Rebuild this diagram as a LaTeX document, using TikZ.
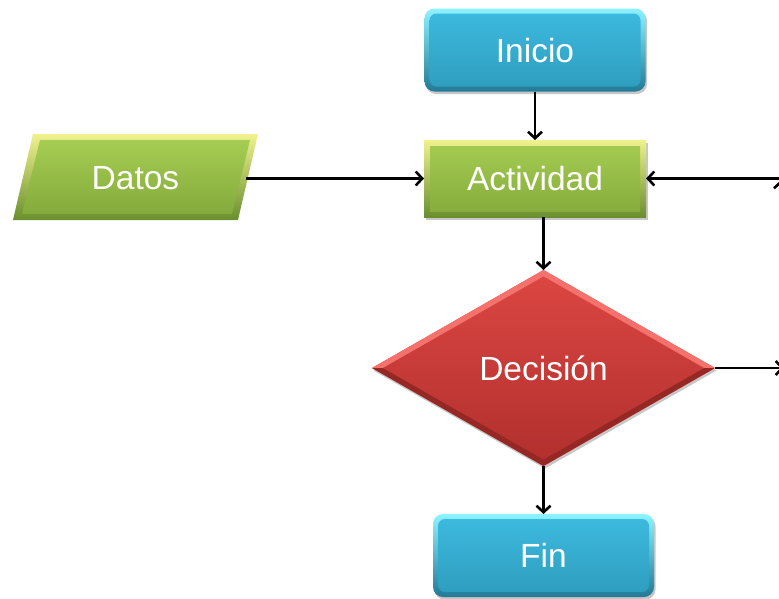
\documentclass[tikz,border=0pt]{standalone}
\usepackage{fontspec}
\setmainfont{Liberation Sans}
\usetikzlibrary{arrows.meta,shapes.geometric,calc,shadows}

% palette
\definecolor{bluemain}{HTML}{3DBBE0}
\definecolor{bluelow}{HTML}{2E9CBD}
\definecolor{bluelight}{HTML}{8DF3FF}
\definecolor{bluedark}{HTML}{217A96}
\definecolor{greenmain}{HTML}{A6CD52}
\definecolor{greenlow}{HTML}{84AA3C}
\definecolor{greenlight}{HTML}{F0F28E}
\definecolor{greendark}{HTML}{6A8F2E}
\definecolor{redmain}{HTML}{DB4642}
\definecolor{redlow}{HTML}{B2302E}
\definecolor{redlight}{HTML}{F4716C}
\definecolor{reddark}{HTML}{952725}

\newcommand\boxfont{\fontsize{33.5}{40}\selectfont}

\begin{document}
\begin{tikzpicture}[x=1pt,y=-1pt,
  every node/.style={inner sep=0pt, outer sep=0pt, text=white, font=\boxfont,
    text height=24pt, text depth=0pt},
  softshadow/.style={drop shadow={opacity=0.22, fill=black, shadow xshift=1.5pt, shadow yshift=-2.5pt}},
  termbox/.style={rectangle, rounded corners=10pt, minimum width=221pt, minimum height=83pt,
    top color=bluelight, bottom color=bluedark, softshadow,
    path picture={\shade[top color=bluemain, bottom color=bluelow, rounded corners=7pt]
      ([shift={(5pt,-5pt)}]path picture bounding box.north west) rectangle
      ([shift={(-5pt,5pt)}]path picture bounding box.south east);}},
  actbox/.style={rectangle, minimum width=222pt, minimum height=77pt,
    top color=greenlight, bottom color=greendark, softshadow,
    path picture={\shade[top color=greenmain, bottom color=greenlow]
      ([shift={(6pt,-6pt)}]path picture bounding box.north west) rectangle
      ([shift={(-6pt,6pt)}]path picture bounding box.south east);}},
  databox/.style={rectangle, minimum width=245pt, minimum height=86pt,
    path picture={
      \coordinate (pnw) at (path picture bounding box.north west);
      \shade[top color=greenlight, bottom color=greendark]
        ($(pnw)+(20pt,0pt)$) -- ($(pnw)+(245pt,0pt)$) -- ($(pnw)+(225pt,-86pt)$) -- ($(pnw)+(0pt,-86pt)$) -- cycle;
      \shade[top color=greenmain, bottom color=greenlow]
        ($(pnw)+(27pt,-6pt)$) -- ($(pnw)+(237pt,-6pt)$) -- ($(pnw)+(219pt,-80pt)$) -- ($(pnw)+(9pt,-80pt)$) -- cycle;}},
  decbox/.style={diamond, minimum width=343pt, minimum height=196pt, softshadow, fill=redmain,
    path picture={
      \coordinate (pnw) at (path picture bounding box.north west);
      \coordinate (pse) at (path picture bounding box.south east);
      \fill[redlight] (pnw) rectangle ($(pse)+(0pt,98pt)$);
      \fill[reddark] ($(pnw)+(0pt,-98pt)$) rectangle (pse);
      \shade[top color=redmain, bottom color=redlow]
        ($(pnw)+(11pt,-98pt)$) -- ($(pnw)+(171.5pt,-6.5pt)$) -- ($(pnw)+(332pt,-98pt)$) -- ($(pnw)+(171.5pt,-189.5pt)$) -- cycle;}},
  arr/.style={line width=2.6pt, -{Straight Barb[length=6.5pt,width=14pt,line width=2.6pt]}}
]
\useasboundingbox (0,0) rectangle (779,598);

% blocks
\node[termbox] (inicio) at (535,50) {Inicio};
\node[actbox] (actividad) at (535,178.5) {Actividad};
\node[databox] (datos) at (135.5,177) {Datos};
\node[decbox] (decision) at (543.5,368) {Decisión};
\node[termbox] (fin) at (543.5,555.5) {Fin};

% loop back from the decision, running along the right edge
\coordinate (exitR) at (784,368);
\coordinate (loopB) at (781,368);
\coordinate (loopT) at (781,180);

% connectors
\draw[arr] (inicio) -- (actividad);
\draw[arr] ([xshift=-12pt]datos.east |- actividad.west) -- (actividad.west);
\draw[arr] (actividad.south -| decision.north) -- (decision.north);
\draw[arr] (decision.south) -- (fin.north);
\draw[arr] (decision.east) -- (exitR);
\draw[arr] (loopB) -- (loopT);
\draw[arr] (loopT |- actividad.east) -- (actividad.east);
\end{tikzpicture}
\end{document}
